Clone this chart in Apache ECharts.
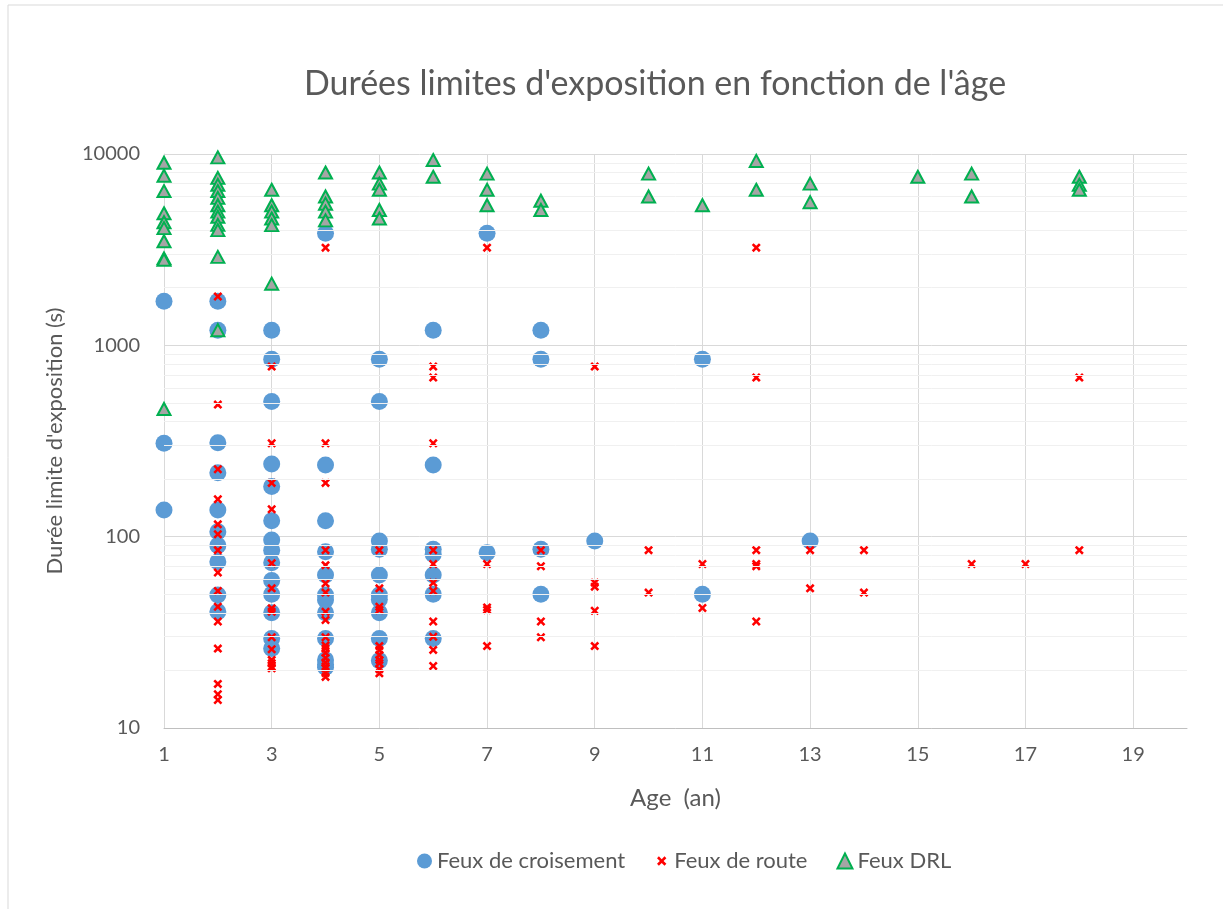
<!DOCTYPE html>
<html>
<head>
<meta charset="utf-8">
<script src="https://cdn.jsdelivr.net/npm/echarts@6/dist/echarts.min.js"></script>
<style>
  * { margin: 0; padding: 0; }
  html, body { background: #fff; }
  #main { width: 1223px; height: 909px; }
</style>
</head>
<body>
<div id="main"></div>
<script>
// valeurs : [âge, durée (s)]
var feuxCroisement = [
  [1,1700],[1,308],[1,138],
  [2,1700],[2,1200],[2,310],[2,216],[2,138],[2,106],[2,90],[2,74],[2,49.6],[2,40.5],
  [3,1200],[3,846],[3,508],[3,240],[3,183],[3,121],[3,96],[3,85],[3,73],[3,59],[3,50],[3,40],[3,29.4],[3,26],
  [4,3850],[4,237],[4,121],[4,83.5],[4,63],[4,49.6],[4,46.7],[4,40],[4,29.4],[4,22.7],[4,21.5],[4,20.8],
  [5,846],[5,508],[5,95],[5,86],[5,63],[5,49.6],[5,47],[5,40],[5,29.4],[5,22.5],
  [6,1200],[6,237],[6,86],[6,81],[6,63],[6,50],[6,29.4],
  [7,3850],[7,82.5],
  [8,1200],[8,846],[8,86],[8,50],
  [9,95],
  [11,846],[11,50],
  [13,95]
];
var feuxRoute = [
  [2,1800],[2,490],[2,225],[2,157],[2,116],[2,103],[2,85],[2,65],[2,52],[2,43],[2,36],[2,26],[2,17],[2,15],[2,14],
  [3,774],[3,308],[3,191],[3,139],[3,72.6],[3,53.7],[3,42.2],[3,40.5],[3,29.8],[3,25.8],[3,22.7],[3,21.8],[3,20.9],[3,20.5],
  [4,3240],[4,308],[4,191],[4,85],[4,71],[4,57],[4,51],[4,40.5],[4,36.7],[4,29.8],[4,27],[4,26],[4,24.7],[4,23.2],[4,22],[4,21],[4,20.5],[4,19.4],[4,18.5],
  [5,85],[5,53.7],[5,43],[5,41.4],[5,26.8],[5,25.6],[5,24.1],[5,22.7],[5,21.8],[5,20.3],[5,19.3],
  [6,774],[6,678],[6,308],[6,85],[6,72],[6,57.5],[6,52],[6,36],[6,30],[6,25.6],[6,21.1],
  [7,3240],[7,72],[7,42.7],[7,41.4],[7,26.8],
  [8,85],[8,70],[8,36],[8,29.8],
  [9,774],[9,57.5],[9,54.8],[9,41],[9,26.8],
  [10,85],[10,51],
  [11,72],[11,42.4],
  [12,3240],[12,678],[12,85],[12,72],[12,70],[12,36],
  [13,85],[13,53.7],
  [14,85],[14,51],
  [16,72],
  [17,72],
  [18,678],[18,85]
];
var feuxDRL = [
  [1,9000],[1,7700],[1,6400],[1,4900],[1,4400],[1,4100],[1,3500],[1,2850],[1,2800],[1,465],
  [2,9600],[2,7500],[2,6900],[2,6400],[2,5900],[2,5400],[2,5000],[2,4700],[2,4260],[2,4000],[2,2900],[2,1200],
  [3,6500],[3,5400],[3,5000],[3,4600],[3,4250],[3,2100],
  [4,8000],[4,6000],[4,5500],[4,5000],[4,4500],
  [5,8000],[5,7000],[5,6500],[5,5100],[5,4600],
  [6,9300],[6,7600],
  [7,7900],[7,6500],[7,5400],
  [8,5700],[8,5100],
  [10,7900],[10,6000],
  [11,5400],
  [12,9200],[12,6500],
  [13,7000],[13,5600],
  [15,7600],
  [16,7900],[16,6000],
  [18,7600],[18,6900],[18,6500]
];
var xTicks = [1,3,5,7,9,11,13,15,17,19];
var yTicks = [10,100,1000,10000];
var minorTicks = [20,30,40,50,60,70,80,90,200,300,400,500,600,700,800,900,2000,3000,4000,5000,6000,7000,8000,9000];
var seriesNames = ['Feux de croisement','Feux de route','Feux DRL'];

var font = 'Lato, "Open Sans", sans-serif';
var txt = '#595959';
var croixPath = 'path://M2,0L5,3L8,0L10,2L7,5L10,8L8,10L5,7L2,10L0,8L3,5L0,2Z';
// même croix, avec une marge pour qu'elle reste petite dans la légende
var croixLegende = 'path://M-3,-3M13,13M2,0L5,3L8,0L10,2L7,5L10,8L8,10L5,7L2,10L0,8L3,5L0,2Z';

var chart = echarts.init(document.getElementById('main'));
var option = {
  backgroundColor: '#fff',
  animation: false,
  textStyle: { fontFamily: font },
  graphic: [{
    type: 'rect',
    shape: { x: 8, y: 5, width: 1400, height: 1000 },
    style: { fill: 'none', stroke: '#D9D9D9', lineWidth: 1 },
    silent: true
  }],
  title: {
    text: "Durées limites d'exposition en fonction de l'âge",
    left: 650,
    top: 62,
    textAlign: 'center',
    textStyle: { fontFamily: font, fontSize: 34, fontWeight: 'normal', color: txt }
  },
  legend: {
    data: [
      { name: seriesNames[0], icon: 'circle' },
      { name: seriesNames[1], icon: croixLegende },
      { name: seriesNames[2], icon: 'triangle' }
    ],
    left: 412,
    top: 845,
    itemWidth: 15,
    itemHeight: 15,
    itemGap: 29,
    textStyle: { fontFamily: font, fontSize: 22, color: txt }
  },
  grid: { left: 164, right: 36, top: 154, bottom: 181 },
  xAxis: {
    type: 'value',
    min: 1,
    max: 20,
    interval: 2,
    name: 'Age  (an)',
    nameLocation: 'middle',
    nameGap: 58,
    nameTextStyle: { fontFamily: font, fontSize: 24, color: txt },
    axisLine: { show: true, lineStyle: { color: '#BFBFBF', width: 1 } },
    axisTick: { show: false },
    axisLabel: {
      margin: 17,
      fontSize: 20,
      color: txt,
      showMaxLabel: false,
      formatter: function (v) { return xTicks.indexOf(v) >= 0 ? String(v) : ''; }
    },
    splitLine: { show: true, showMaxLine: false, lineStyle: { color: '#D9D9D9', width: 1 } }
  },
  yAxis: {
    type: 'log',
    logBase: 10,
    min: 10,
    max: 10000,
    name: "Durée limite d'exposition (s)",
    nameLocation: 'middle',
    nameGap: 98,
    nameTextStyle: { fontFamily: font, fontSize: 22, color: txt },
    axisLine: { show: true, lineStyle: { color: '#D9D9D9', width: 1 } },
    axisTick: { show: false },
    axisLabel: {
      margin: 24,
      fontSize: 20,
      color: txt,
      formatter: function (v) {
        var r = Math.round(v);
        return yTicks.indexOf(r) >= 0 ? String(r) : '';
      }
    },
    splitLine: { show: true, lineStyle: { color: '#D9D9D9', width: 1 } }
  },
  series: [
    {
      name: 'grille',
      type: 'scatter',
      data: [],
      silent: true,
      z: 1,
      markLine: {
        silent: true,
        symbol: 'none',
        label: { show: false },
        lineStyle: { color: '#F0F0F0', width: 1, type: 'solid' },
        data: minorTicks.map(function (v) { return { yAxis: v }; })
      }
    },
    {
      name: seriesNames[0],
      type: 'scatter',
      symbol: 'circle',
      symbolSize: 17,
      itemStyle: { color: '#5B9BD5', opacity: 1 },
      z: 3,
      data: feuxCroisement
    },
    {
      name: seriesNames[1],
      type: 'scatter',
      symbol: croixPath,
      symbolSize: 9,
      itemStyle: { color: '#FF0000', opacity: 1 },
      z: 4,
      data: feuxRoute
    },
    {
      name: seriesNames[2],
      type: 'scatter',
      symbol: 'triangle',
      symbolSize: [13, 12],
      itemStyle: { color: '#A5A5A5', borderColor: '#00B050', borderWidth: 2, opacity: 1 },
      z: 5,
      data: feuxDRL
    }
  ]
};
chart.setOption(option);
</script>
</body>
</html>
